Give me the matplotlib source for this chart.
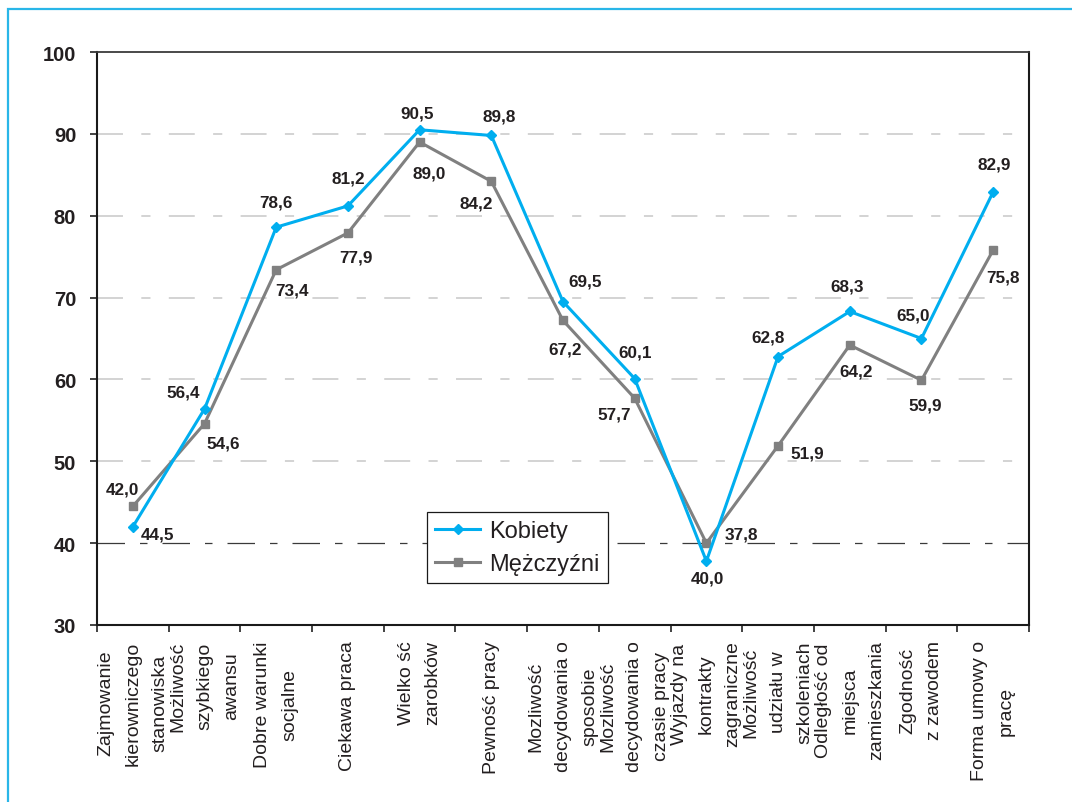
import matplotlib.pyplot as plt
from matplotlib.patches import Rectangle

plt.rcParams['font.family'] = ['Liberation Sans', 'DejaVu Sans']

TEXT = '#231f20'
BLUE = '#00aeef'
GRAY = '#808080'

categories = [
    "Zajmowanie\nkierowniczego\nstanowiska",
    "Możliwość\nszybkiego\nawansu",
    "Dobre warunki\nsocjalne",
    "Ciekawa praca",
    "Wielko ść\nzarobków",
    "Pewność pracy",
    "Mozliwość\ndecydowania o\nsposobie",
    "Mozliwość\ndecydowania o\nczasie pracy",
    "Wyjazdy na\nkontrakty\nzagraniczne",
    "Możliwość\nudziału w\nszkoleniach",
    "Odległość od\nmiejsca\nzamieszkania",
    "Zgodność\nz zawodem",
    "Forma umowy o\npracę",
]
kobiety = [42.0, 56.4, 78.6, 81.2, 90.5, 89.8, 69.5, 60.1, 37.8, 62.8, 68.3, 65.0, 82.9]
mezczyzni = [44.5, 54.6, 73.4, 77.9, 89.0, 84.2, 67.2, 57.7, 40.0, 51.9, 64.2, 59.9, 75.8]

# label offsets from each point, in pixels (x right, y down)
k_off = [(-10, -39), (-21, -18), (0, -27), (0, -29), (-2, -18), (8, -21), (22, -22),
         (0, -28), (35, -29), (-10, -21), (-3, -27), (-8, -25), (1, -29)]
m_off = [(25, 26), (19, 18), (16, 19), (8, 23), (10, 29), (-15, 20), (2, 27),
         (-21, 14), (1, 33), (29, 6), (6, 24), (4, 23), (10, 25)]

fig = plt.figure(figsize=(10.72, 8.03), dpi=100)
ax = fig.add_axes([97 / 1072, 1 - 626 / 803, 932 / 1072, 573 / 803])

# blue frame round the chart
fig.patches.append(Rectangle((8 / 1072, -0.1), 1.2, 1 - 10 / 803 + 0.1,
                             transform=fig.transFigure, fill=False,
                             edgecolor='#29b6e8', linewidth=1.6))

x = list(range(len(categories)))

dash = (0, (17, 12, 6, 12))
for level in [50, 60, 70, 80, 90]:
    ax.axhline(level, color='#c8c8c8', linewidth=1.1, linestyle=dash, zorder=1)
ax.axhline(40, color='#3a3a3a', linewidth=0.9, linestyle=(0, (22, 12, 6, 12)), zorder=1)

ax.plot(x, kobiety, color=BLUE, linewidth=2.2, marker='D', markersize=4.8,
        label='Kobiety', zorder=4)
ax.plot(x, mezczyzni, color=GRAY, linewidth=2.2, marker='s', markersize=5.5,
        label='Mężczyźni', zorder=3)

def fmt(v):
    return f"{v:.1f}".replace('.', ',')

for i in x:
    for vals, off in ((kobiety, k_off), (mezczyzni, m_off)):
        dx, dy = off[i]
        ax.annotate(fmt(vals[i]), xy=(i, vals[i]), xytext=(dx * 0.72, -(dy + 6) * 0.72),
                    textcoords='offset points', ha='center', va='baseline',
                    fontsize=12.3, fontweight='bold', color=TEXT, zorder=5)

ax.set_xlim(-0.5, len(categories) - 0.5)
ax.set_ylim(30, 100)
ax.set_yticks(range(30, 101, 10))
ax.set_yticklabels([str(v) for v in range(30, 101, 10)],
                   fontsize=14.5, fontweight='bold', color=TEXT)
ax.tick_params(axis='y', direction='out', length=5, width=1.2, pad=10, colors='#222222')
for lab in ax.get_yticklabels():
    lab.set_color(TEXT)

ax.set_xticks(x)
ax.set_xticklabels(categories, rotation=90, fontsize=14, color=TEXT,
                   linespacing=1.75, multialignment='center')
ax.tick_params(axis='x', which='major', length=0, pad=11)
ax.set_xticks([i - 0.5 for i in range(len(categories) + 1)], minor=True)
ax.tick_params(axis='x', which='minor', direction='out', length=5, width=1.2,
               colors='#222222')

for side in ['left', 'bottom', 'right']:
    ax.spines[side].set_color('#1a1a1a')
    ax.spines[side].set_linewidth(1.5)
ax.spines['top'].set_color('#3a3a3a')
ax.spines['top'].set_linewidth(1.3)

leg = ax.legend(loc='upper left', bbox_to_anchor=(330 / 932, 113 / 573),
                borderaxespad=0, fontsize=17, frameon=True, fancybox=False,
                handlelength=1.9, handletextpad=0.4, labelspacing=0.45,
                borderpad=0.35)
leg.get_frame().set_edgecolor('#1a1a1a')
leg.get_frame().set_linewidth(0.9)
leg.get_frame().set_alpha(1)
for t in leg.get_texts():
    t.set_color(TEXT)

fig.savefig('out.png', dpi=100)
